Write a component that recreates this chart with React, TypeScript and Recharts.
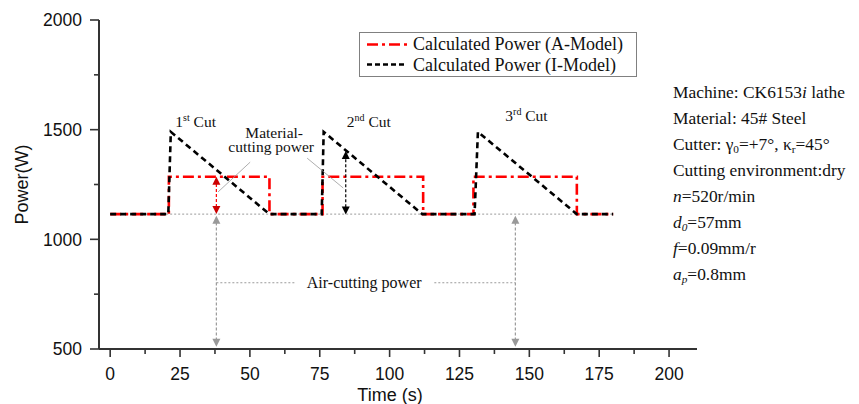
import React from 'react'
import {
  LineChart,
  Line,
  XAxis,
  YAxis,
  ReferenceLine,
  ReferenceDot,
  Legend,
} from 'recharts'

// A-Model: square pulses (time s / power W)
const aTime = [0, 21, 21, 57, 57, 76, 76, 112, 112, 130, 130, 167, 167, 180]
const aPower = [1115, 1115, 1285, 1285, 1115, 1115, 1285, 1285, 1115, 1115, 1285, 1285, 1115, 1115]

// I-Model: spike then linear decay
const iTime = [0, 20.8, 21.7, 57, 75.7, 76.4, 111.7, 130.4, 131.6, 167, 180]
const iPower = [1115, 1115, 1490, 1115, 1115, 1490, 1115, 1115, 1490, 1115, 1115]

const xTicks = [0, 12.5, 25, 37.5, 50, 62.5, 75, 87.5, 100, 112.5, 125, 137.5, 150, 162.5, 175, 187.5, 200]
const yTicks = [500, 750, 1000, 1250, 1500, 1750, 2000]

const seriesNames = ['Calculated Power (A-Model)', 'Calculated Power (I-Model)']

const infoLines = [
  'Machine: CK6153i lathe',
  'Material: 45# Steel',
  'Cutter: γ0=+7°, κr=45°',
  'Cutting environment:dry',
  'n=520r/min',
  'd0=57mm',
  'f=0.09mm/r',
  'ap=0.8mm',
]

const aData = aTime.map((t, i) => ({ t, p: aPower[i] }))
const iData = iTime.map((t, i) => ({ t, p: iPower[i] }))

const AXIS = '#333'
const SANS = 'Liberation Sans, Arial, sans-serif'
const SERIF = 'Liberation Serif, Times New Roman, serif'

function XTick(props: any) {
  const { x, y, payload } = props
  const major = payload.value % 25 === 0
  return (
    <g>
      <line x1={x} x2={x} y1={y} y2={y + (major ? 8 : 5)} stroke={AXIS} strokeWidth={1.6} />
      {major && (
        <text x={x} y={y + 30.5} textAnchor="middle" fontFamily={SANS} fontSize={17.5} fill="#111">
          {payload.value}
        </text>
      )}
    </g>
  )
}

function YTick(props: any) {
  const { x, y, payload } = props
  const major = payload.value % 500 === 0
  return (
    <g>
      <line x1={x} x2={x - (major ? 9 : 5)} y1={y} y2={y} stroke={AXIS} strokeWidth={1.6} />
      {major && (
        <text x={x - 17} y={y + 6.3} textAnchor="end" fontFamily={SANS} fontSize={17.5} fill="#111">
          {payload.value}
        </text>
      )}
    </g>
  )
}

function YTitle(props: any) {
  const { viewBox } = props
  const cx = viewBox.x + 22
  const cy = viewBox.y + viewBox.height / 2
  return (
    <text x={cx} y={cy} transform={`rotate(-90 ${cx} ${cy})`} textAnchor="middle" dominantBaseline="central"
      fontFamily={SANS} fontSize={18} fill="#111">
      Power(W)
    </text>
  )
}

function XTitle(props: any) {
  const { viewBox } = props
  return (
    <text x={viewBox.x + 291} y={viewBox.y + 52} textAnchor="middle" fontFamily={SANS} fontSize={18} fill="#111">
      Time (s)
    </text>
  )
}

const tri = (color: string, up: boolean) => (props: any) => {
  const { cx, cy } = props
  const d = up ? 8 : -8
  return <polygon points={`${cx},${cy} ${cx - 4},${cy + d} ${cx + 4},${cy + d}`} fill={color} />
}

const cutLabel = (num: string, sup: string) => (props: any) => {
  const { cx, cy } = props
  return (
    <text x={cx} y={cy} fontFamily={SERIF} fontSize={15.5} fill="#111">
      {num}
      <tspan dy={-6} fontSize={10}>{sup}</tspan>
      <tspan dy={6}> Cut</tspan>
    </text>
  )
}

function MaterialLabel(props: any) {
  const { cx, cy } = props
  return (
    <text x={cx} y={cy} textAnchor="middle" fontFamily={SERIF} fontSize={15.5} fill="#111">
      <tspan x={cx}>Material-</tspan>
      <tspan x={cx - 3} dy={13.5}>cutting power</tspan>
    </text>
  )
}

function AirLabel(props: any) {
  const { cx, cy } = props
  return (
    <text x={cx} y={cy} textAnchor="middle" fontFamily={SERIF} fontSize={16} fill="#111">
      Air-cutting power
    </text>
  )
}

function LegendBox() {
  return (
    <div
      style={{
        position: 'absolute',
        left: 359,
        top: 32,
        width: 276,
        height: 43,
        border: '1px solid #808080',
        fontFamily: SERIF,
        fontSize: 18,
        color: '#111',
        background: '#fff',
      }}
    >
      <svg width={50} height={43} style={{ position: 'absolute', left: 0, top: 0 }}>
        <line x1={7} x2={47} y1={11.5} y2={11.5} stroke="#ff0000" strokeWidth={2.6} strokeDasharray="11 4 3 4" />
        <line x1={7} x2={47} y1={31.5} y2={31.5} stroke="#000" strokeWidth={2.6} strokeDasharray="5 3" />
      </svg>
      <div style={{ position: 'absolute', left: 53, top: 1, lineHeight: '20px', whiteSpace: 'nowrap' }}>{seriesNames[0]}</div>
      <div style={{ position: 'absolute', left: 53, top: 22, lineHeight: '20px', whiteSpace: 'nowrap' }}>{seriesNames[1]}</div>
    </div>
  )
}

function InfoText() {
  const it = { fontStyle: 'italic' as const }
  const sub = { fontSize: '0.65em', verticalAlign: '-0.25em' }
  const rows = [
    <>Machine: CK6153<span style={it}>i</span> lathe</>,
    <>{infoLines[1]}</>,
    <>Cutter: γ<span style={sub}>0</span>=+7°, κ<span style={sub}>r</span>=45°</>,
    <>{infoLines[3]}</>,
    <><span style={it}>n</span>=520r/min</>,
    <><span style={it}>d<span style={sub}>0</span></span>=57mm</>,
    <><span style={it}>f</span>=0.09mm/r</>,
    <><span style={it}>a<span style={sub}>p</span></span>=0.8mm</>,
  ]
  return (
    <div style={{ position: 'absolute', left: 673, top: 80, fontFamily: SERIF, fontSize: 17.4, color: '#111' }}>
      {rows.map((r, i) => (
        <div key={i} style={{ height: 26, lineHeight: '24px', whiteSpace: 'nowrap' }}>{r}</div>
      ))}
    </div>
  )
}

export default function App() {
  return (
    <div style={{ position: 'absolute', left: 0, top: 0, width: 859, height: 404, background: '#fff' }}>
      <LineChart width={859} height={404} margin={{ top: 20, right: 162, left: 0, bottom: 0 }}>
        <XAxis
          type="number"
          dataKey="t"
          domain={[-4, 210]}
          ticks={xTicks}
          interval={0}
          tickSize={0}
          tickMargin={0}
          tickLine={false}
          tick={<XTick />}
          height={55}
          axisLine={{ stroke: AXIS, strokeWidth: 2 }}
          allowDataOverflow
          label={<XTitle />}
        />
        <YAxis
          type="number"
          domain={[500, 2000]}
          ticks={yTicks}
          interval={0}
          tickSize={0}
          tickMargin={0}
          tickLine={false}
          tick={<YTick />}
          width={99}
          axisLine={{ stroke: AXIS, strokeWidth: 2 }}
          allowDataOverflow
          label={<YTitle />}
        />
        <Legend content={<LegendBox />} wrapperStyle={{ position: 'absolute', left: 0, top: 0, width: 0, height: 0 }} />

        {/* baseline */}
        <ReferenceLine segment={[{ x: 0, y: 1115 }, { x: 180, y: 1115 }]} stroke="#9a9a9a" strokeWidth={1} strokeDasharray="2 2" />

        {/* air-cutting arrows */}
        <ReferenceLine segment={[{ x: 38, y: 1100 }, { x: 38, y: 520 }]} stroke="#9a9a9a" strokeWidth={1.2} strokeDasharray="3 2" />
        <ReferenceLine segment={[{ x: 145, y: 1100 }, { x: 145, y: 520 }]} stroke="#9a9a9a" strokeWidth={1.2} strokeDasharray="3 2" />
        <ReferenceLine segment={[{ x: 38, y: 802 }, { x: 66, y: 802 }]} stroke="#9a9a9a" strokeWidth={1} strokeDasharray="2 2" />
        <ReferenceLine segment={[{ x: 116, y: 802 }, { x: 145, y: 802 }]} stroke="#9a9a9a" strokeWidth={1} strokeDasharray="2 2" />
        <ReferenceDot x={38} y={1108} shape={tri('#999', true)} />
        <ReferenceDot x={145} y={1108} shape={tri('#999', true)} />
        <ReferenceDot x={38} y={510} shape={tri('#999', false)} />
        <ReferenceDot x={145} y={510} shape={tri('#999', false)} />

        <Line data={aData} dataKey="p" type="linear" stroke="#ff0000" strokeWidth={2.6} strokeDasharray="11 4 3 4"
          dot={false} activeDot={false} isAnimationActive={false} name={seriesNames[0]} />
        <Line data={iData} dataKey="p" type="linear" stroke="#000" strokeWidth={2.6} strokeDasharray="6 4"
          dot={false} activeDot={false} isAnimationActive={false} name={seriesNames[1]} />

        {/* material-cutting arrows */}
        <ReferenceLine segment={[{ x: 38, y: 1125 }, { x: 38, y: 1275 }]} stroke="#ff0000" strokeWidth={1.2} strokeDasharray="3 2" />
        <ReferenceDot x={38} y={1285} shape={tri('#cc0000', true)} />
        <ReferenceDot x={38} y={1115} shape={tri('#cc0000', false)} />
        <ReferenceLine segment={[{ x: 84.3, y: 1123 }, { x: 84.3, y: 1393 }]} stroke="#000" strokeWidth={1.2} strokeDasharray="3 2" />
        <ReferenceDot x={84.3} y={1403} shape={tri('#000', true)} />
        <ReferenceDot x={84.3} y={1113} shape={tri('#000', false)} />
        <ReferenceLine segment={[{ x: 50.1, y: 1352 }, { x: 38.6, y: 1216 }]} stroke="#999" strokeWidth={0.8} />
        <ReferenceLine segment={[{ x: 70.5, y: 1370 }, { x: 83.4, y: 1234 }]} stroke="#999" strokeWidth={0.8} />

        {/* labels */}
        <ReferenceDot x={23.3} y={1512} shape={cutLabel('1', 'st')} />
        <ReferenceDot x={84.7} y={1512} shape={cutLabel('2', 'nd')} />
        <ReferenceDot x={141.4} y={1540} shape={cutLabel('3', 'rd')} />
        <ReferenceDot x={58.7} y={1462} shape={<MaterialLabel />} />
        <ReferenceDot x={90.9} y={778} shape={<AirLabel />} />
      </LineChart>
      <InfoText />
    </div>
  )
}
